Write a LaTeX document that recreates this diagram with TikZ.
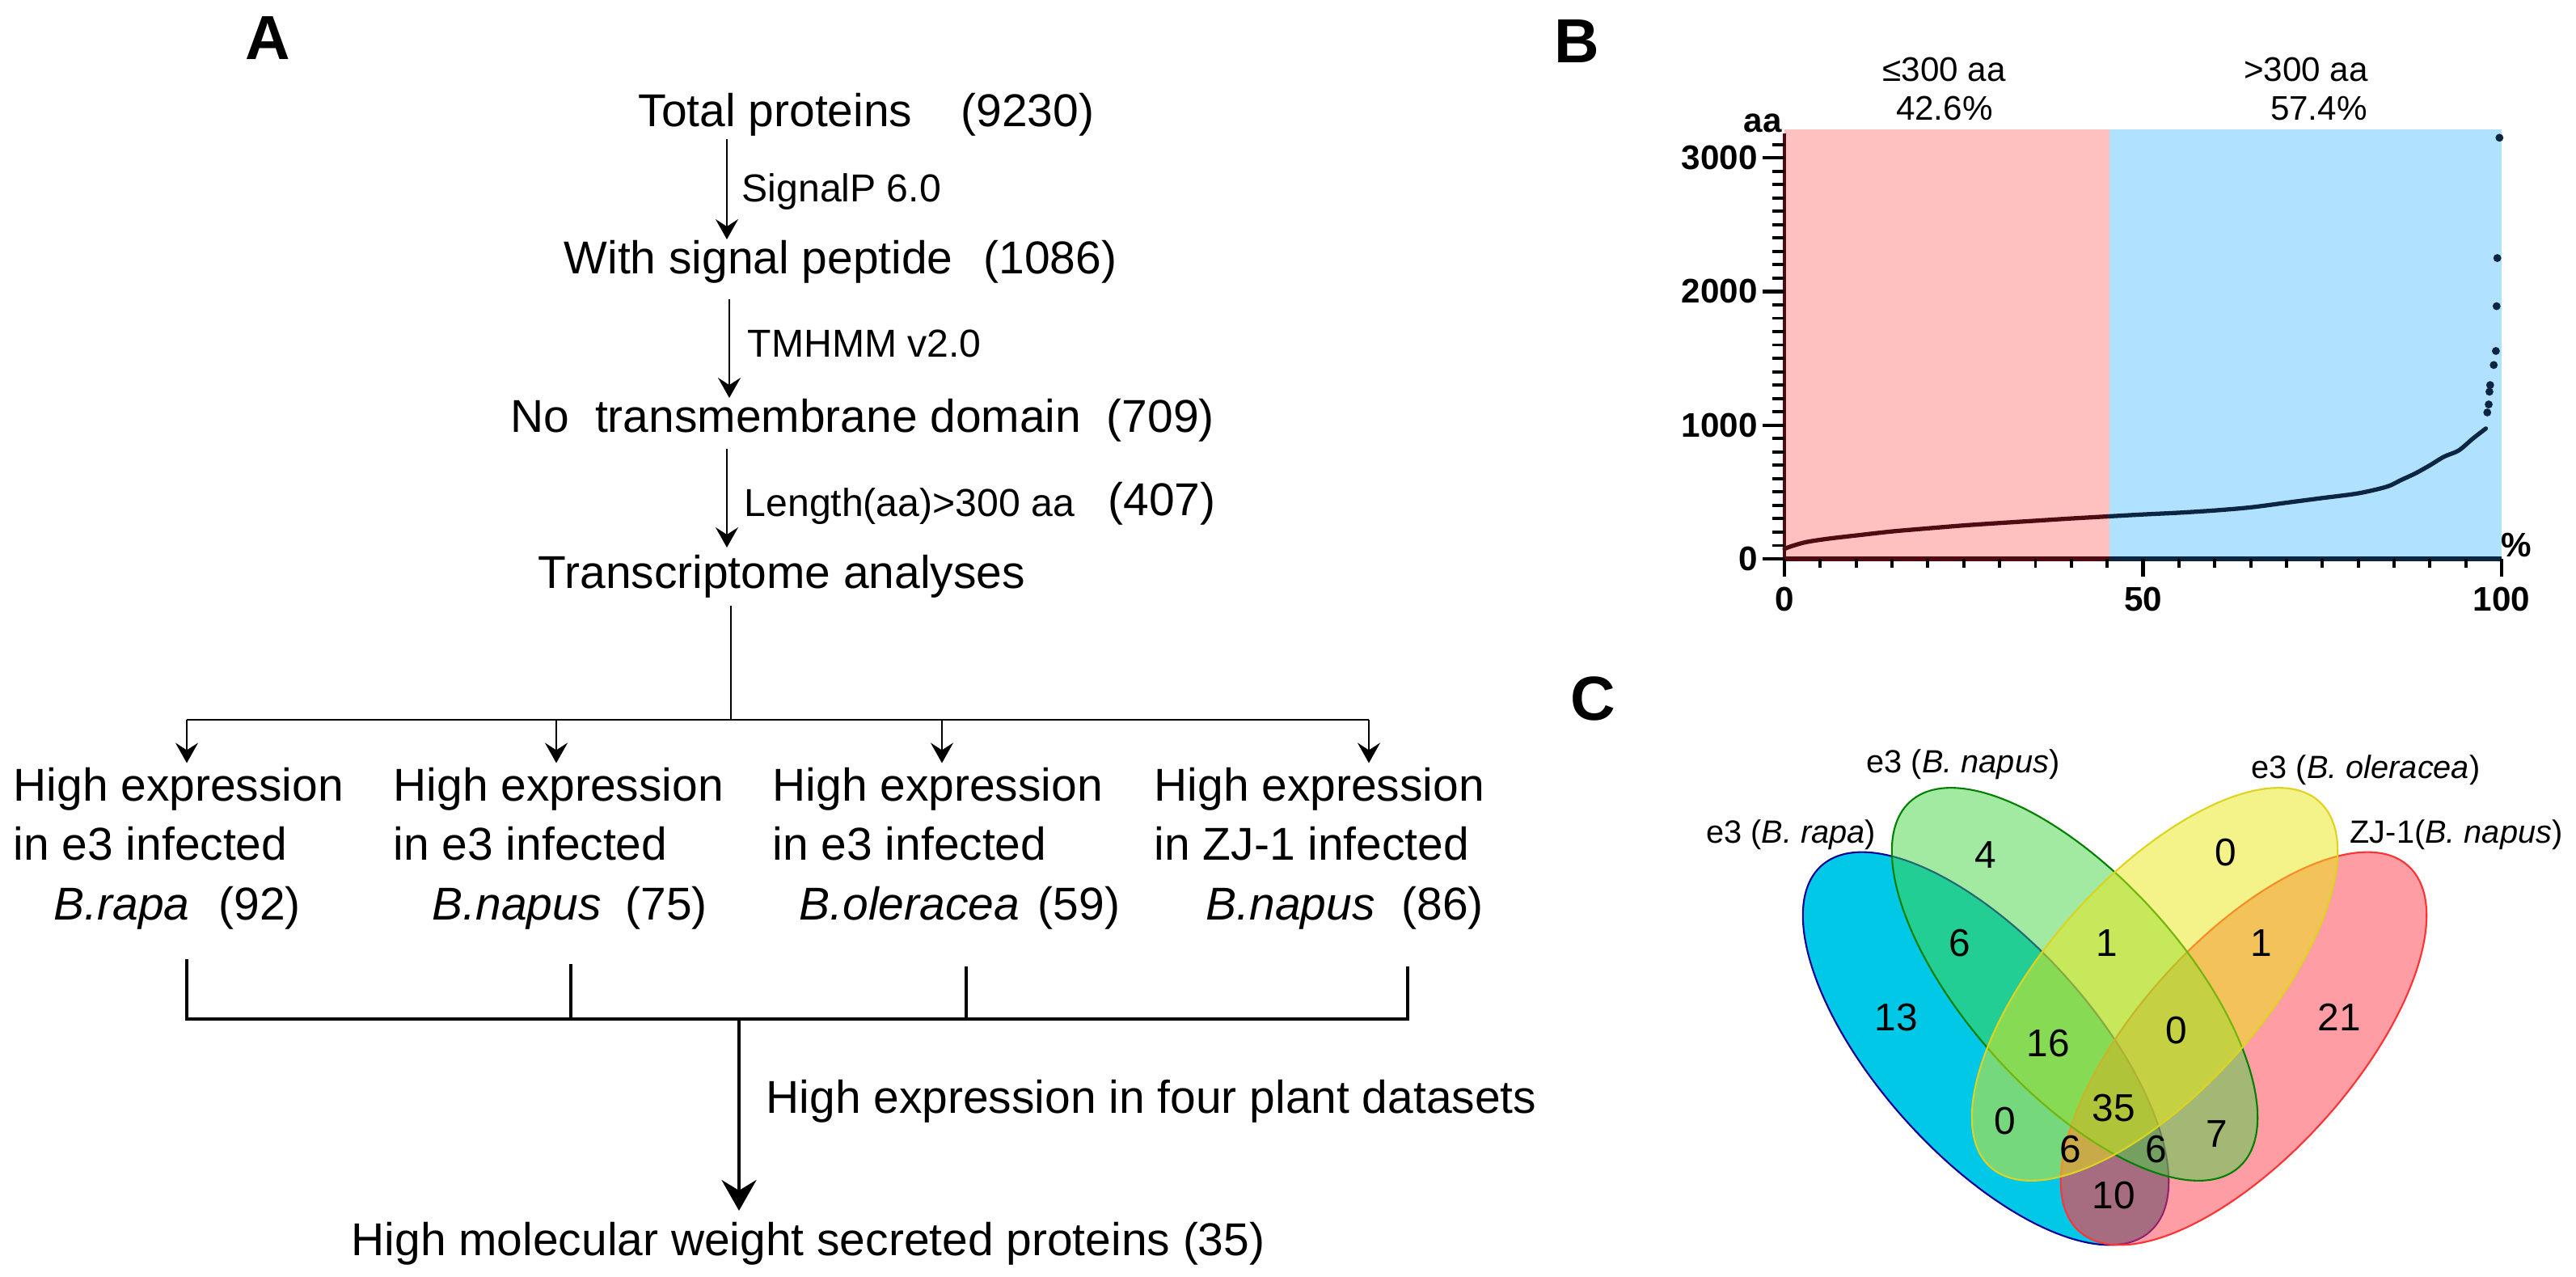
\documentclass[tikz,border=0pt]{standalone}
\usepackage{fontspec}
\setmainfont{Liberation Sans}
\usetikzlibrary{arrows.meta}

\definecolor{pinkbg}{RGB}{255,192,192}
\definecolor{bluebg}{RGB}{176,226,255}
\definecolor{ptred}{RGB}{78,12,18}
\definecolor{ptblue}{RGB}{12,38,66}
\definecolor{vblue}{RGB}{0,200,230}
\definecolor{vgreen}{RGB}{70,212,70}
\definecolor{vyellow}{RGB}{235,232,20}
\definecolor{vred}{RGB}{255,60,75}

\begin{document}
\begin{tikzpicture}[
  txt/.style={inner sep=0pt, font={\fontsize{16.2}{20.9}\selectfont}},
  lbl/.style={inner sep=0pt, font={\fontsize{13.7}{16}\selectfont}},
  panel/.style={inner sep=0pt, font={\fontsize{21.9}{26}\selectfont\bfseries}},
  box/.style={txt, align=left, anchor=north west},
  flow/.style={line width=0.7pt, -{Stealth[length=2.5mm,width=2.8mm,inset=0.9mm]}},
  bigflow/.style={line width=1.3pt, -{Stealth[length=3.8mm,width=4.3mm,inset=1.3mm]}},
  bus/.style={line width=0.8pt},
  thickbus/.style={line width=1.4pt},
  ticklab/.style={inner sep=0pt, font={\fontsize{12}{14}\selectfont\bfseries}},
  toplab/.style={inner sep=0pt, font={\fontsize{12}{14}\selectfont}},
  vnum/.style={inner sep=0pt, font={\fontsize{13.6}{16}\selectfont}},
  vlab/.style={inner sep=0pt, anchor=base, font={\fontsize{11.3}{13}\selectfont}},
  venn/.style={line width=0.6pt, x radius=3.04, y radius=1.33},
  ]
  \path[use as bounding box, fill=white] (0,0) rectangle (31.86,-15.79);

  % ---------------- A: pipeline
  \node[panel, anchor=base] (pa) at (3.31,-0.73) {A};
  \node[txt, anchor=base west] (tot) at (7.89,-1.56) {Total proteins};
  \node[txt, anchor=base west] (n1) at (11.88,-1.56) {(9230)};
  \node[lbl, anchor=base west] (l1) at (9.17,-2.49) {SignalP 6.0};
  \node[txt, anchor=base west] (sig) at (6.97,-3.38) {With signal peptide};
  \node[txt, anchor=base west] (n2) at (12.16,-3.38) {(1086)};
  \node[lbl, anchor=base west] (l2) at (9.24,-4.41) {TMHMM v2.0};
  \node[txt, anchor=base west] (ntm) at (6.31,-5.34) {No\ \ transmembrane domain};
  \node[txt, anchor=base west] (n3) at ([xshift=0.30cm]ntm.base east) {(709)};
  \node[lbl, anchor=base west] (l3) at (9.20,-6.38) {Length(aa)>300 aa};
  \node[txt, anchor=base west] (n4) at (13.70,-6.37) {(407)};
  \node[txt, anchor=base west] (tra) at (6.65,-7.27) {Transcriptome analyses};

  \coordinate (c1) at (8.99,0);
  \coordinate (c2) at (9.02,0);
  \draw[flow, shorten <=0.03cm] (tot.south -| c1) -- (sig.north -| c1);
  \draw[flow, shorten <=0.19cm] (sig.south -| c2) -- (ntm.north -| c2);
  \draw[flow, shorten <=0.2cm, shorten >=0.08cm] (ntm.south -| c1) -- (tra.north -| c1);

  % four datasets
  \node[box] (h1) at (0.16,-9.485)
    {High expression\\in e3 infected\\\hspace*{0.50cm}\textit{B.rapa}\hspace{0.36cm}(92)};
  \node[box] (h2) at (4.86,-9.485)
    {High expression\\in e3 infected\\\hspace*{0.48cm}\textit{B.napus}\hspace{0.30cm}(75)};
  \node[box] (h3) at (9.55,-9.485)
    {High expression\\in e3 infected\\\hspace*{0.33cm}\textit{B.oleracea}\hspace{0.23cm}(59)};
  \node[box] (h4) at (14.27,-9.485)
    {High expression\\in ZJ-1 infected\\\hspace*{0.64cm}\textit{B.napus}\hspace{0.33cm}(86)};

  \coordinate (br) at (9.04,-8.90);
  \coordinate (t1) at (2.31,-8.90);
  \coordinate (t2) at (6.88,-8.90);
  \coordinate (t3) at (11.65,-8.90);
  \coordinate (t4) at (16.93,-8.90);
  \draw[bus, shorten <=0.09cm] (tra.south -| br) -- (br);
  \draw[bus] (t1) -- (t4);
  \foreach \i in {1,...,4}
    \draw[flow, shorten >=0.05cm] (t\i) -- (t\i |- h\i.north);

  \coordinate (u1) at (2.31,-12.60);
  \coordinate (u2) at (7.06,-12.60);
  \coordinate (u3) at (11.95,-12.60);
  \coordinate (u4) at (17.41,-12.60);
  \coordinate (m) at (9.14,-12.60);
  \draw[thickbus, shorten <=0.36cm, shorten >=0.45cm]
    (u1 |- h1.south) -- (u1) -- (u4) -- (u4 |- h4.south);
  \draw[thickbus, shorten <=0.42cm] (u2 |- h2.south) -- (u2);
  \draw[thickbus, shorten <=0.45cm] (u3 |- h3.south) -- (u3);

  \node[txt, anchor=base west] (four) at (9.47,-13.76) {High expression in four plant datasets};
  \node[txt, anchor=base west] (fin) at (4.34,-15.52) {High molecular weight secreted proteins (35)};
  \draw[bigflow, shorten >=0.13cm] (m) -- (m |- fin.north);

  % ---------------- B: length distribution
  \node[panel, anchor=base] (pb) at (19.50,-0.78) {B};
  \begin{scope}[shift={(22.07,-6.91)}, x=0.0887cm, y=0.1653cm]
    \fill[pinkbg] (0,0) rectangle (45.3,32.1);
    \fill[bluebg] (45.3,0) rectangle (100,32.1);
    % sorted protein lengths (hundreds of aa)
    \draw[ptred, line width=1.5pt, line cap=round] plot[smooth] coordinates
      {(0,0.75) (1,0.95) (3,1.25) (6,1.5) (10,1.75) (15,2.05) (20,2.28)
       (25,2.5) (30,2.68) (35,2.85) (40,3.02) (45.3,3.18)};
    \draw[ptblue, line width=1.5pt, line cap=round] plot[smooth] coordinates
      {(45.3,3.18) (50,3.32) (55,3.45) (60,3.62) (65,3.85) (70,4.2) (75,4.55)
       (80,4.9) (84,5.4) (86,5.9) (88,6.4) (90,7.0) (92,7.65) (94,8.1)
       (96,9.0) (97.8,9.75)};
    \foreach \px/\py in {98.0/10.95, 98.2/11.55, 98.3/12.5, 98.4/13.0, 98.9/14.5,
                         99.2/15.55, 99.3/18.9, 99.4/22.5, 99.7/31.5}
      \fill[ptblue] (\px,\py) circle (1.4pt);
    % axes
    \draw[ptred, line width=1.4pt] (0,0) -- (0,31.8);
    \draw[ptred, line width=1.7pt] (0,0) -- (45.3,0);
    \draw[ptblue, line width=1.7pt] (45.3,0) -- (100,0);
    \foreach \t in {1,...,31}
      \draw[line width=1.1pt] (0,\t) -- (-1.7,\t);
    \foreach \t/\lab in {0/0, 10/1000, 20/2000, 30/3000} {
      \draw[line width=1.2pt] (0,\t) -- (-3.05,\t);
      \node[ticklab, anchor=east] (y\t) at (-3.7,\t) {\lab};
    }
    \foreach \t in {5,10,...,95}
      \draw[line width=1.1pt] (\t,0) -- (\t,-0.67);
    \foreach \t in {0,50,100} {
      \draw[line width=1.2pt] (\t,0) -- (\t,-1.33);
      \node[ticklab, anchor=base] (x\t) at (\t,-3.93) {\t};
    }
    \node[ticklab, anchor=base] (aa) at (-3.0,31.94) {aa};
    \node[ticklab, anchor=base] (pct) at (102.1,0.18) {\%};
    \node[toplab, anchor=base] (sa) at (22.3,35.7) {≤300 aa};
    \node[toplab, anchor=base] (sp) at (22.3,32.8) {42.6\%};
    \node[toplab, anchor=base] (la) at (72.7,35.7) {>300 aa};
    \node[toplab, anchor=base] (lp) at (74.5,32.8) {57.4\%};
  \end{scope}

  % ---------------- C: Venn diagram
  \node[panel, anchor=base] (pc) at (19.70,-8.90) {C};
  \draw[venn, draw=blue!60!black, fill=vblue,
        rotate around={-48:(24.56,-12.965)}] (24.56,-12.965) ellipse [];
  \draw[venn, draw=red!80, fill=vred, fill opacity=0.5,
        rotate around={48:(27.75,-12.965)}] (27.75,-12.965) ellipse [];
  % deeper tint where rapa and ZJ-1 overlap
  \begin{scope}
    \clip[rotate around={-48:(24.56,-12.965)}] (24.56,-12.965) ellipse [x radius=3.04, y radius=1.33];
    \fill[vred, opacity=0.3, rotate around={48:(27.75,-12.965)}]
      (27.75,-12.965) ellipse [x radius=3.04, y radius=1.33];
  \end{scope}
  \draw[venn, draw=green!50!black, fill=vgreen, fill opacity=0.5,
        rotate around={-48:(25.66,-12.17)}] (25.66,-12.17) ellipse [];
  \draw[venn, draw=yellow!85!black, fill=vyellow, fill opacity=0.5,
        rotate around={48:(26.65,-12.17)}] (26.65,-12.17) ellipse [];

  \node[vlab] (gn) at (24.28,-9.55) {e3 (\textit{B. napus})};
  \node[vlab] (go) at (29.26,-9.62) {e3 (\textit{B. oleracea})};
  \node[vlab] (gr) at (22.15,-10.42) {e3 (\textit{B. rapa})};
  \node[vlab] (gz) at (30.38,-10.42) {ZJ-1(\textit{B. napus})};

  \node[vnum] (v4) at (24.56,-10.57) {4};
  \node[vnum] (vy) at (27.53,-10.54) {0};
  \node[vnum] (vbg) at (24.24,-11.66) {6};
  \node[vnum] (vgy) at (26.06,-11.66) {1};
  \node[vnum] (vyr) at (27.97,-11.66) {1};
  \node[vnum] (vb) at (23.45,-12.58) {13};
  \node[vnum] (vr) at (28.93,-12.58) {21};
  \node[vnum] (vbgy) at (25.33,-12.90) {16};
  \node[vnum] (vgyr) at (26.92,-12.74) {0};
  \node[vnum] (vall) at (26.14,-13.70) {35};
  \node[vnum] (vby) at (24.80,-13.86) {0};
  \node[vnum] (vgr) at (27.42,-14.02) {7};
  \node[vnum] (vbyr) at (25.61,-14.21) {6};
  \node[vnum] (vbgr) at (26.67,-14.21) {6};
  \node[vnum] (vbr) at (26.14,-14.78) {10};
\end{tikzpicture}
\end{document}
